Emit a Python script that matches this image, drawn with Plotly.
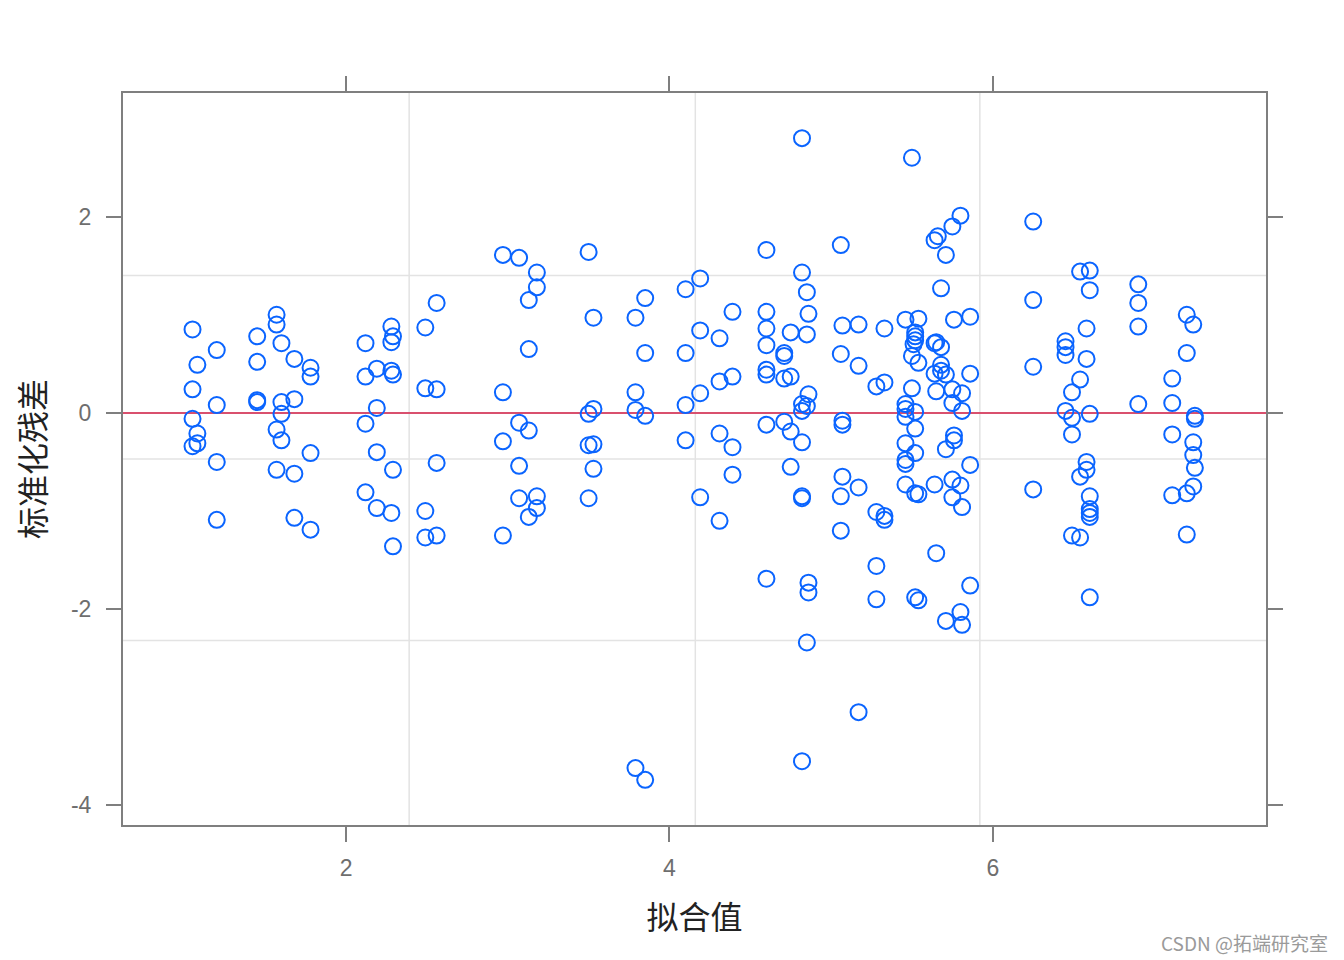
"""Standardised residuals vs fitted values, lattice-style."""

from plotly import graph_objects as go

# fitted values (x) and standardised residuals (y)
fitted = [
    1.05, 1.08, 1.05, 1.05, 1.08, 1.08, 1.05,
    1.20, 1.20, 1.20, 1.20,
    1.45, 1.45, 1.45, 1.45,
    1.57, 1.57, 1.60, 1.60, 1.60, 1.57, 1.60, 1.57,
    1.68, 1.68, 1.78, 1.78, 1.78, 1.68, 1.68, 1.78,
    2.56, 2.28, 2.29, 2.28, 2.12, 2.49, 2.19, 2.12, 2.28, 2.29, 2.49, 2.56,
    2.19, 2.12, 2.19, 2.29, 2.56, 2.12, 2.19, 2.28, 2.49, 2.29, 2.49, 2.56,
    2.97, 3.07, 3.18, 3.18, 3.13, 3.50, 3.53, 3.13, 2.97, 3.50, 3.53, 3.07,
    3.13, 2.97, 3.50, 3.53, 3.07, 3.53, 3.07, 3.18, 3.18, 3.13, 3.50, 2.97,
    4.19, 4.10, 3.85, 3.79, 4.39, 4.19, 4.31, 3.85, 4.10, 3.79, 4.31, 4.39,
    4.19, 4.10, 3.79, 3.85, 4.10, 4.31, 4.39, 4.39, 4.19, 4.31, 3.79, 3.85,
    4.82, 4.60, 4.82, 4.85, 4.86, 4.60, 4.60, 4.60, 4.75, 4.85, 4.71, 4.71,
    4.60, 4.60, 4.71, 4.75, 4.86, 4.82, 4.85, 4.82, 4.60, 4.71, 4.75, 4.82,
    4.75, 4.82, 4.82, 4.60, 4.86, 4.86, 4.85, 4.82,
    5.06, 5.07, 5.17, 5.33, 5.06, 5.17, 5.28, 5.33, 5.07, 5.07, 5.07, 5.17,
    5.06, 5.28, 5.33, 5.33, 5.06, 5.28, 5.28, 5.17,
    5.50, 5.80, 5.75, 5.66, 5.64, 5.71, 5.68, 5.46, 5.54, 5.76, 5.86, 5.52,
    5.52, 5.52, 5.51, 5.64, 5.65, 5.68, 5.50, 5.54, 5.68, 5.64, 5.68, 5.71,
    5.86, 5.50, 5.65, 5.75, 5.81, 5.46, 5.46, 5.52, 5.75, 5.81, 5.46, 5.52,
    5.76, 5.76, 5.71, 5.46, 5.52, 5.46, 5.46, 5.86, 5.46, 5.52, 5.54, 5.64,
    5.75, 5.80, 5.75, 5.81, 5.65, 5.52, 5.54, 5.86, 5.80, 5.71, 5.81,
    6.25, 6.54, 6.60, 6.60, 6.25, 6.58, 6.45, 6.45, 6.45, 6.58, 6.25, 6.54,
    6.49, 6.45, 6.49, 6.60, 6.49, 6.58, 6.58, 6.54, 6.25, 6.60, 6.60, 6.60,
    6.60, 6.49, 6.54, 6.60,
    6.90, 6.90, 6.90, 7.20, 7.24, 7.20, 7.11, 6.90, 7.11, 7.25, 7.25, 7.11,
    7.24, 7.24, 7.25, 7.24, 7.20, 7.11, 7.20,
]
resid = [
    0.85, 0.49, 0.24, -0.06, -0.21, -0.31, -0.34,
    0.64, 0.08, -0.50, -1.09,
    0.78, 0.52, 0.13, 0.11,
    1.00, 0.90, 0.71, 0.11, -0.01, -0.17, -0.28, -0.58,
    0.55, 0.14, 0.46, 0.37, -0.41, -0.62, -1.07, -1.19,
    1.12, 0.88, 0.78, 0.72, 0.71, 0.87, 0.45, 0.37, 0.43, 0.39, 0.25, 0.24,
    0.05, -0.11, -0.40, -0.58, -0.51, -0.81, -0.97, -1.02, -1.00, -1.36, -1.27, -1.25,
    1.61, 1.58, 1.43, 1.28, 1.15, 1.64, 0.97, 0.65, 0.21, -0.01, 0.04, -0.10,
    -0.18, -0.29, -0.33, -0.32, -0.54, -0.57, -0.87, -0.85, -0.97, -1.06, -0.87, -1.25,
    1.37, 1.26, 1.17, 0.97, 1.03, 0.84, 0.76, 0.61, 0.61, 0.21, 0.32, 0.37,
    0.20, 0.08, 0.03, -0.03, -0.28, -0.21, -0.35, -0.63, -0.86, -1.10, -3.62, -3.74,
    2.80, 1.66, 1.43, 1.23, 1.01, 1.03, 0.86, 0.69, 0.82, 0.80, 0.61, 0.58,
    0.44, 0.39, 0.35, 0.37, 0.19, 0.09, 0.07, 0.02, -0.12, -0.09, -0.19, -0.30,
    -0.55, -0.85, -0.87, -1.69, -1.73, -1.83, -2.34, -3.55,
    1.71, 0.89, 0.90, 0.86, 0.60, 0.48, 0.27, 0.31, -0.08, -0.12, -0.65, -0.76,
    -0.85, -1.01, -1.05, -1.09, -1.20, -1.56, -1.90, -3.05,
    2.60, 2.01, 1.90, 1.80, 1.76, 1.61, 1.27, 0.95, 0.96, 0.95, 0.98, 0.82,
    0.78, 0.74, 0.70, 0.71, 0.72, 0.67, 0.58, 0.51, 0.49, 0.40, 0.43, 0.39,
    0.40, 0.25, 0.22, 0.24, 0.20, 0.09, 0.04, 0.01, 0.10, 0.02, -0.04, -0.16,
    -0.23, -0.28, -0.37, -0.31, -0.41, -0.48, -0.52, -0.53, -0.73, -0.82, -0.83, -0.73,
    -0.68, -0.74, -0.86, -0.96, -1.43, -1.88, -1.91, -1.76, -2.03, -2.12, -2.16,
    1.95, 1.44, 1.45, 1.25, 1.15, 0.86, 0.73, 0.67, 0.59, 0.55, 0.47, 0.34,
    0.21, 0.02, -0.05, -0.01, -0.22, -0.50, -0.58, -0.65, -0.78, -0.85, -0.98, -1.02,
    -1.06, -1.25, -1.27, -1.88,
    1.31, 1.12, 0.88, 1.00, 0.90, 0.61, 0.35, 0.09, 0.10, -0.03, -0.06, -0.22,
    -0.30, -0.43, -0.56, -0.75, -0.82, -0.84, -1.24,
]

x_ticks = [2, 4, 6]
x_labels = ["2", "4", "6"]
y_ticks = [-4, -2, 0, 2]
y_labels = ["-4", "-2", "0", "2"]
grid_x = [2.39, 4.16, 5.92]
grid_y = [1.40, -0.47, -2.32]

fig = go.Figure(
    go.Scatter(
        x=fitted,
        y=resid,
        mode="markers",
        marker={
            "symbol": "circle-open",
            "size": 16,
            "color": "#0a64ff",
            "line": {"width": 2, "color": "#0a64ff"},
        },
        showlegend=False,
    )
)

for gx in grid_x:
    fig.add_vline(x=gx, line_color="#e3e3e3", line_width=1.5, layer="below")
for gy in grid_y:
    fig.add_hline(y=gy, line_color="#e3e3e3", line_width=1.5, layer="below")
fig.add_hline(y=0, line_color="#d9506e", line_width=2, layer="below")

axis_style = dict(
    showgrid=False,
    zeroline=False,
    showline=True,
    linecolor="#7f7f7f",
    linewidth=2,
    mirror="ticks",
    ticks="outside",
    ticklen=15,
    tickwidth=2,
    tickcolor="#7f7f7f",
    tickfont={"family": "Liberation Sans, Arial", "size": 23, "color": "#6e6e6e"},
)
title_font = {"family": "Noto Sans CJK SC", "size": 32, "color": "#222"}

fig.update_xaxes(
    range=[0.62, 7.69],
    tickvals=x_ticks,
    ticktext=x_labels,
    ticklabelstandoff=6,
    title={"text": "拟合值", "font": title_font, "standoff": 27},
    **axis_style,
)
fig.update_yaxes(
    range=[-4.2, 3.26],
    tickvals=y_ticks,
    ticktext=y_labels,
    ticklabelstandoff=10,
    title={"text": "标准化残差", "font": title_font, "standoff": 25},
    **axis_style,
)

fig.add_annotation(
    text="CSDN @拓端研究室",
    xref="paper", yref="paper",
    x=1.056, y=-0.16,
    xanchor="right", yanchor="middle",
    showarrow=False,
    font={"family": "Noto Sans CJK SC", "size": 19, "color": "#9a9a9a"},
)

fig.update_layout(
    width=1336,
    height=952,
    margin={"l": 115, "r": 78, "t": 85, "b": 135},
    plot_bgcolor="white",
    paper_bgcolor="white",
)

fig.write_html("out.html")
